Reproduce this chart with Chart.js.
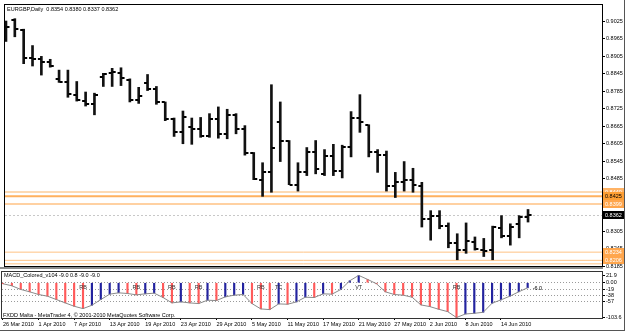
<!DOCTYPE html>
<html>
<head>
<meta charset="utf-8">
<script src="https://cdn.jsdelivr.net/npm/chart.js@4.4.1/dist/chart.umd.min.js"></script>
<style>
  html, body { margin: 0; padding: 0; background: #fff; }
  #wrap { position: relative; width: 625px; height: 331px; overflow: hidden; }
  #price { position: absolute; left: 0; top: 0; }
  #macd { position: absolute; left: 0; top: 271px; }
  #edge { position: absolute; left: 0; top: 0; width: 625px; height: 331px; box-sizing: border-box;
          border-right: 1px solid #555; border-bottom: 1px solid #555; pointer-events: none; }
</style>
</head>
<body>
<div id="wrap">
  <canvas id="price" width="625" height="271"></canvas>
  <canvas id="macd" width="625" height="60"></canvas>
  <div id="edge"></div>
</div>
<script>
// EURGBP daily bars, 26 Mar - 17 Jun 2010
const dates = ['26 Mar 2010', '29 Mar 2010', '30 Mar 2010', '31 Mar 2010',
  '1 Apr 2010', '2 Apr 2010', '5 Apr 2010', '6 Apr 2010', '7 Apr 2010', '8 Apr 2010', '9 Apr 2010',
  '12 Apr 2010', '13 Apr 2010', '14 Apr 2010', '15 Apr 2010', '16 Apr 2010',
  '19 Apr 2010', '20 Apr 2010', '21 Apr 2010', '22 Apr 2010', '23 Apr 2010',
  '26 Apr 2010', '27 Apr 2010', '28 Apr 2010', '29 Apr 2010', '30 Apr 2010',
  '3 May 2010', '4 May 2010', '5 May 2010', '6 May 2010', '7 May 2010',
  '10 May 2010', '11 May 2010', '12 May 2010', '13 May 2010', '14 May 2010',
  '17 May 2010', '18 May 2010', '19 May 2010', '20 May 2010', '21 May 2010',
  '24 May 2010', '25 May 2010', '26 May 2010', '27 May 2010', '28 May 2010',
  '31 May 2010', '1 Jun 2010', '2 Jun 2010', '3 Jun 2010', '4 Jun 2010',
  '7 Jun 2010', '8 Jun 2010', '9 Jun 2010', '10 Jun 2010', '11 Jun 2010',
  '14 Jun 2010', '15 Jun 2010', '16 Jun 2010', '17 Jun 2010'];

const opens = [0.9005, 0.9028, 0.8994, 0.8898, 0.8896, 0.8885, 0.8827, 0.8815, 0.8773, 0.8751,
  0.8740, 0.8835, 0.8846, 0.8846, 0.8824, 0.8756, 0.8812, 0.8793, 0.8748, 0.8689,
  0.8644, 0.8661, 0.8656, 0.8630, 0.8689, 0.8639, 0.8704, 0.8656, 0.8575, 0.8482,
  0.8507, 0.8678, 0.8613, 0.8465, 0.8507, 0.8577, 0.8502, 0.8563, 0.8513, 0.8594,
  0.8693, 0.8670, 0.8577, 0.8566, 0.8462, 0.8473, 0.8480, 0.8462, 0.8348, 0.8359,
  0.8323, 0.8266, 0.8241, 0.8270, 0.8241, 0.8241, 0.8317, 0.8290, 0.8331, 0.8354];
const highs = [0.9025, 0.9033, 0.8997, 0.8941, 0.8904, 0.8894, 0.8857, 0.8857, 0.8818, 0.8782,
  0.8778, 0.8846, 0.8863, 0.8865, 0.8827, 0.8798, 0.8842, 0.8801, 0.8748, 0.8693,
  0.8717, 0.8693, 0.8695, 0.8708, 0.8731, 0.8723, 0.8708, 0.8667, 0.8575, 0.8540,
  0.8807, 0.8748, 0.8616, 0.8540, 0.8592, 0.8616, 0.8585, 0.8603, 0.8600, 0.8715,
  0.8773, 0.8670, 0.8585, 0.8580, 0.8507, 0.8544, 0.8521, 0.8473, 0.8376, 0.8376,
  0.8334, 0.8297, 0.8334, 0.8286, 0.8281, 0.8323, 0.8359, 0.8331, 0.8359, 0.8380];
const lows = [0.8955, 0.8971, 0.8879, 0.8871, 0.8840, 0.8867, 0.8815, 0.8764, 0.8751, 0.8734,
  0.8704, 0.8801, 0.8801, 0.8804, 0.8748, 0.8743, 0.8787, 0.8740, 0.8684, 0.8630,
  0.8605, 0.8603, 0.8627, 0.8627, 0.8624, 0.8622, 0.8639, 0.8566, 0.8482, 0.8425,
  0.8439, 0.8544, 0.8465, 0.8443, 0.8496, 0.8502, 0.8496, 0.8496, 0.8488, 0.8560,
  0.8644, 0.8560, 0.8507, 0.8443, 0.8421, 0.8443, 0.8439, 0.8320, 0.8275, 0.8314,
  0.8249, 0.8208, 0.8230, 0.8241, 0.8219, 0.8208, 0.8283, 0.8258, 0.8283, 0.8337];
const closes = [0.9003, 0.8997, 0.8898, 0.8896, 0.8885, 0.8872, 0.8815, 0.8775, 0.8753, 0.8740,
  0.8771, 0.8842, 0.8851, 0.8829, 0.8756, 0.8768, 0.8793, 0.8748, 0.8689, 0.8644,
  0.8695, 0.8656, 0.8630, 0.8689, 0.8637, 0.8704, 0.8656, 0.8574, 0.8484, 0.8507,
  0.8589, 0.8613, 0.8465, 0.8507, 0.8577, 0.8518, 0.8563, 0.8513, 0.8594, 0.8693,
  0.8678, 0.8577, 0.8566, 0.8462, 0.8473, 0.8480, 0.8465, 0.8348, 0.8358, 0.8323,
  0.8266, 0.8241, 0.8271, 0.8245, 0.8238, 0.8320, 0.8290, 0.8320, 0.8353, 0.8362];

// MACD_Colored histogram
const macd = [-3, -9, -20, -27, -35, -40, -50, -60, -70, -77,
  -67, -50, -34, -30, -32, -36, -33, -31, -44, -60,
  -57, -60, -62, -52, -53, -42, -37, -35, -62, -78,
  -80, -63, -64, -57, -43, -44, -33, -34, -20, 6,
  21.9, 10, -3, -27, -35, -37, -43, -66, -71, -79,
  -86, -103.6, -93, -91, -88, -61, -51, -40, -27, -15];
const macdMarks = [[9, 'RB'], [15, 'RB'], [19, 'RB'], [22, 'RB'], [29, 'RB'], [31, 'TC'], [40, 'VT'], [51, 'RB']];
const macdLast = '-6.0';

// horizontal levels
const levels = [0.8440, 0.8425, 0.8399, 0.8234, 0.8206, 0.8194];
const lastPrice = 0.8362;

// axis ticks
const priceTicks = [0.9025, 0.8965, 0.8905, 0.8845, 0.8785, 0.8725, 0.8665, 0.8605, 0.8545,
  0.8485, 0.8425, 0.8365, 0.8305, 0.8245, 0.8185];
const macdTicks = [21.9, 0, -19, -38, -57, -103.6];
const macdTickLabels = ['21.9', '0.00', '-19', '-38', '-57', '-103.6'];
const macdLevels = [0, -19, -38, -57];
const dateTickLabels = ['26 Mar 2010', '1 Apr 2010', '7 Apr 2010', '13 Apr 2010', '19 Apr 2010',
  '23 Apr 2010', '29 Apr 2010', '5 May 2010', '11 May 2010', '17 May 2010', '21 May 2010',
  '27 May 2010', '2 Jun 2010', '8 Jun 2010', '14 Jun 2010'];

const FONT = '"Liberation Sans", Arial, sans-serif';
const FS = 5.5;
Chart.defaults.font.family = FONT;
Chart.defaults.font.size = FS;

const X_MIN = -0.11, X_MAX = 67.36;

function tickImg(left) {
    const c = document.createElement('canvas');
    c.width = 9;
    c.height = 2;
    const g = c.getContext('2d');
    g.fillStyle = '#000';
    g.fillRect(left ? 1 : 5, 0, 3, 2);
    return c;
}

function txt(ctx, s, x, y, color, align) {
    ctx.save();
    ctx.font = FS + 'px ' + FONT;
    ctx.fillStyle = color || '#000';
    ctx.textAlign = align || 'left';
    ctx.textBaseline = 'middle';
    ctx.fillText(s, x, y);
    ctx.restore();
}

const priceDecor = {
    id: 'priceDecor',
    beforeDatasetsDraw(chart) {
        const { ctx, chartArea: a, scales } = chart;
        const st = [
            { color: '#fddab3', width: 2 },
            { color: '#ffb15e', width: 2 },
            { color: '#ffc283', width: 1.5 },
            { color: '#ffc283', width: 1 },
            { color: '#ffc283', width: 1 },
            { color: '#ffc283', width: 1 }
        ];
        ctx.save();
        levels.forEach((v, i) => {
            const y = scales.y.getPixelForValue(v);
            ctx.strokeStyle = st[i].color;
            ctx.lineWidth = st[i].width;
            ctx.beginPath();
            ctx.moveTo(a.left, y);
            ctx.lineTo(a.right, y);
            ctx.stroke();
        });
        const yp = Math.round(scales.y.getPixelForValue(lastPrice)) + 0.5;
        ctx.strokeStyle = '#c8c8c8';
        ctx.lineWidth = 1;
        ctx.setLineDash([2, 2]);
        ctx.beginPath();
        ctx.moveTo(a.left, yp);
        ctx.lineTo(a.right, yp);
        ctx.stroke();
        ctx.restore();
    },
    afterDraw(chart) {
        const { ctx, chartArea: a, scales } = chart;
        ctx.save();
        ctx.strokeStyle = '#000';
        ctx.lineWidth = 1;
        ctx.strokeRect(a.left - 0.5, a.top - 0.5, a.right - a.left + 1, a.bottom - a.top + 1);
        ctx.fillStyle = '#8c8c8c';
        ctx.fillRect(0, a.bottom + 1, a.right + 1, 2);

        const boxes = [
            { v: levels[0], fill: '#ffb366', color: '#fff' },
            { v: levels[1], fill: '#ff9f33', color: '#000' },
            { v: levels[2], fill: '#ffa64d', color: '#fff' },
            { v: levels[3], fill: '#ffa64d', color: '#fff' },
            { v: levels[4], fill: '#ffa64d', color: '#fff' },
            { v: lastPrice, fill: '#000', color: '#fff' }
        ];
        boxes.forEach(b => {
            const y = scales.y.getPixelForValue(b.v);
            ctx.fillStyle = b.fill;
            ctx.fillRect(a.right + 1, Math.round(y) - 4, 21, 8);
            txt(ctx, b.v.toFixed(4), a.right + 3, Math.round(y), b.color);
        });
        const n = closes.length - 1;
        const head = 'EURGBP,Daily  ' + [opens[n], highs[n], lows[n], closes[n]].map(v => v.toFixed(4)).join(' ');
        txt(ctx, head, a.left + 2, a.top + 4);
        ctx.restore();
    }
};

const macdDecor = {
    id: 'macdDecor',
    afterDatasetsDraw(chart) {
        const { ctx, scales } = chart;
        const y0 = scales.y.getPixelForValue(0);
        macdMarks.forEach(([i, t]) => {
            txt(ctx, t, scales.x.getPixelForValue(i), y0 + 5, '#333', 'center');
        });
        const n = macd.length - 1;
        txt(ctx, macdLast, scales.x.getPixelForValue(n) + 5, y0 + 6, '#000');
    },
    afterDraw(chart) {
        const { ctx, chartArea: a } = chart;
        ctx.save();
        ctx.strokeStyle = '#333';
        ctx.lineWidth = 1;
        ctx.strokeRect(a.left - 0.5, a.top + 0.5, a.right - a.left + 1, a.bottom - a.top);
        ctx.restore();
        txt(ctx, 'MACD_Colored_v104 -9.0 0.8 -9.0 -9.0', a.left + 2, a.top + 4);
        txt(ctx, 'FXDD Malta - MetaTrader 4, \u00a9 2001-2010 MetaQuotes Software Corp.', a.left + 1, a.bottom - 2.5);
    }
};

const noPad = s => { s.paddingTop = 0; s.paddingBottom = 0; s.paddingLeft = 0; s.paddingRight = 0; };

new Chart(document.getElementById('price'), {
    type: 'bar',
    data: {
        datasets: [
            {
                type: 'bar',
                data: dates.map((d, i) => ({ x: i, y: [lows[i], highs[i]] })),
                backgroundColor: '#111',
                borderWidth: 0,
                barThickness: 2,
                order: 2
            },
            {
                type: 'scatter',
                data: dates.map((d, i) => ({ x: i, y: opens[i] })),
                pointStyle: tickImg(true),
                pointRadius: 3,
                order: 1
            },
            {
                type: 'scatter',
                data: dates.map((d, i) => ({ x: i, y: closes[i] })),
                pointStyle: tickImg(false),
                pointRadius: 3,
                order: 1
            }
        ]
    },
    options: {
        responsive: false,
        animation: false,
        events: [],
        layout: { padding: { left: 2, top: 2, right: 0, bottom: 3 } },
        plugins: { legend: { display: false }, tooltip: { enabled: false } },
        scales: {
            x: { type: 'linear', min: X_MIN, max: X_MAX, offset: false, display: false, grid: { offset: false } },
            y: {
                position: 'right',
                min: 0.81866,
                max: 0.90798,
                afterBuildTicks: s => { s.ticks = priceTicks.map(v => ({ value: v })); },
                afterFit: s => { s.width = 23; noPad(s); },
                grid: { drawOnChartArea: false, tickLength: 3, tickColor: '#000' },
                border: { display: false },
                ticks: { padding: 1, color: '#000', autoSkip: false, callback: v => Number(v).toFixed(4) }
            }
        }
    },
    plugins: [priceDecor]
});

new Chart(document.getElementById('macd'), {
    type: 'bar',
    data: {
        datasets: [
            {
                type: 'line',
                data: dates.map((d, i) => ({ x: i, y: macd[i] })),
                borderColor: '#8a8a8a',
                borderWidth: 1,
                pointRadius: 0,
                tension: 0,
                order: 0
            },
            {
                type: 'bar',
                data: dates.map((d, i) => ({ x: i, y: macd[i] })),
                backgroundColor: c => (c.dataIndex > 0 && macd[c.dataIndex] > macd[c.dataIndex - 1]) ? '#23239f' : '#ff5a5a',
                borderWidth: 0,
                barThickness: 1.5,
                order: 1
            }
        ]
    },
    options: {
        responsive: false,
        animation: false,
        events: [],
        layout: { padding: { left: 2, top: 0, right: 0, bottom: 0 } },
        plugins: { legend: { display: false }, tooltip: { enabled: false } },
        scales: {
            x: {
                type: 'linear', min: X_MIN, max: X_MAX, offset: false,
                afterBuildTicks: s => { s.ticks = dateTickLabels.map(l => ({ value: dates.indexOf(l) })); },
                afterFit: s => { s.height = 13; noPad(s); },
                grid: { drawOnChartArea: false, tickLength: 2, tickColor: '#000', offset: false },
                border: { display: false },
                ticks: { align: 'start', padding: 1, maxRotation: 0, autoSkip: false, color: '#000',
                         callback: v => dates[v] }
            },
            y: {
                position: 'right',
                min: -105,
                max: 35,
                afterBuildTicks: s => { s.ticks = macdTicks.map(v => ({ value: v })); },
                afterFit: s => { s.width = 23; noPad(s); },
                grid: {
                    color: c => (c.tick && macdLevels.includes(c.tick.value)) ? '#9a9a9a' : 'rgba(0,0,0,0)',
                    tickLength: 3, tickColor: '#000'
                },
                border: { display: false, dash: [1, 2] },
                ticks: { padding: 1, color: '#000', autoSkip: false, callback: (v, i) => macdTickLabels[i] }
            }
        }
    },
    plugins: [macdDecor]
});
</script>
</body>
</html>
